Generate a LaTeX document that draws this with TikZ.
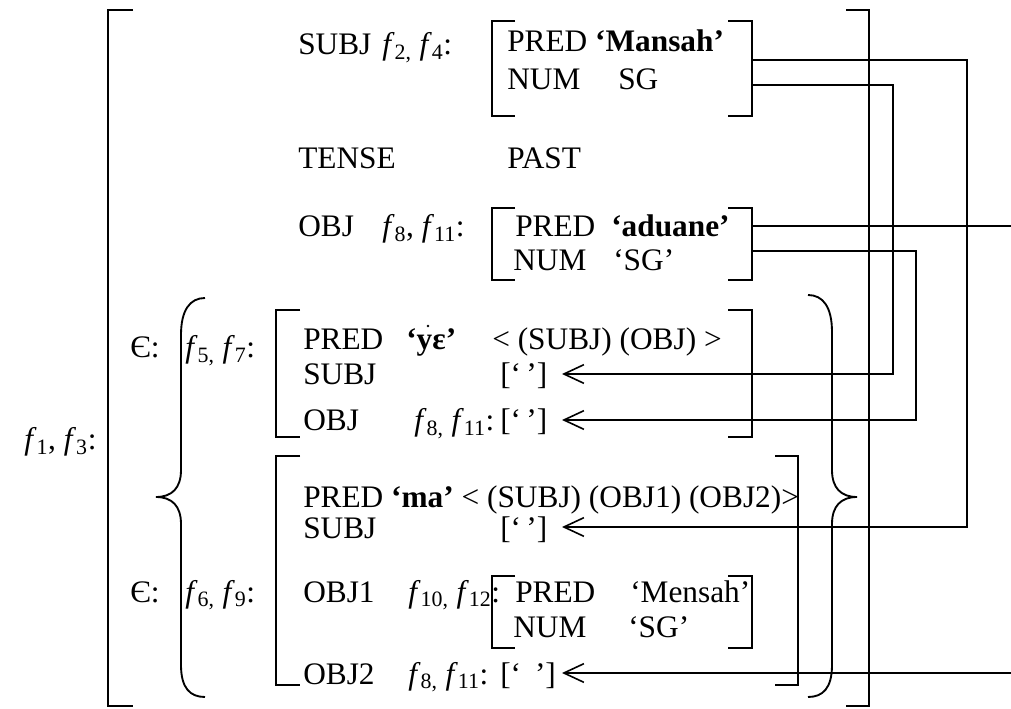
\documentclass[tikz,border=0pt]{standalone}
\usepackage{fontspec}
\setmainfont{Liberation Serif}
\usetikzlibrary{arrows.meta}
\newcommand\fsub[1]{\textit{f}\textsubscript{#1}}
\begin{document}
\begin{tikzpicture}[x=0.75pt,y=-0.75pt,
  lbl/.style={anchor=base west, inner sep=0pt, font=\fontsize{23.5}{28}\selectfont},
  brk/.style={line width=1.4pt},
  conn/.style={line width=1.4pt},
  arr/.style={conn, -{Straight Barb[length=15pt,width=14pt,line width=1.2pt]}}]
\useasboundingbox (0,0) rectangle (1011,709);

% outer f-structure brackets
\draw[brk] (133,10) -- (108,10) -- (108,706) -- (133,706);
\draw[brk] (846,10) -- (869,10) -- (869,706) -- (846,706);
\node[lbl] (f13) at (24,450) {\fsub{1}, \fsub{3}:};

% SUBJ
\node[lbl] (subj) at (298,55) {SUBJ};
\node[lbl] (f24) at (382,55) {\fsub{2,} \fsub{4}:};
\draw[brk] (515,21) -- (492,21) -- (492,116) -- (515,116);
\draw[brk] (728,21) -- (752,21) -- (752,116) -- (728,116);
\node[lbl] (p1) at (507,52) {PRED \textbf{‘Mansah’}};
\node[lbl] (n1) at (507,90) {NUM};
\node[lbl] (s1) at (618,90) {SG};
\coordinate (a1) at (752,60);
\coordinate (a2) at (752,85);

% TENSE
\node[lbl] (tense) at (298,169) {TENSE};
\node[lbl] (past) at (507,169) {PAST};

% OBJ
\node[lbl] (obj) at (298,237) {OBJ};
\node[lbl] (f811) at (382,237) {\fsub{8}, \fsub{11}:};
\draw[brk] (515,208) -- (492,208) -- (492,280) -- (515,280);
\draw[brk] (728,208) -- (752,208) -- (752,280) -- (728,280);
\node[lbl] (p2) at (515,237) {PRED};
\node[lbl] (v2) at (611,237) {\textbf{‘aduane’}};
\node[lbl] (n2) at (513,271) {NUM};
\node[lbl] (s2) at (613,271) {‘SG’};
\coordinate (a3) at (752,226);
\coordinate (a4) at (752,251);

% set braces
\draw[brk] (205,298) .. controls (190,298) and (181,310) .. (181,335) -- (181,470)
  .. controls (181,488) and (172,497) .. (156,497)
  .. controls (172,497) and (181,506) .. (181,524) -- (181,665)
  .. controls (181,688) and (190,697) .. (205,697);
\draw[brk] (808,295) .. controls (823,295) and (832,307) .. (832,332) -- (832,470)
  .. controls (832,488) and (841,497) .. (857,497)
  .. controls (841,497) and (832,506) .. (832,524) -- (832,665)
  .. controls (832,688) and (823,697) .. (808,697);

% first member
\node[lbl] (in1) at (130,358) {Є:};
\node[lbl] (f57) at (185,358) {\fsub{5,} \fsub{7}:};
\draw[brk] (300,310) -- (276,310) -- (276,437) -- (300,437);
\draw[brk] (728,310) -- (752,310) -- (752,437) -- (728,437);
\node[lbl] (p3) at (303,350) {PRED};
\node[lbl] (v3) at (406,350) {\textbf{‘yε’}};
\fill (428,326) circle (1.3);
\node[lbl] (ac3) at (492,350) {< (SUBJ) (OBJ) >};
\node[lbl] (sj3) at (303,385) {SUBJ};
\node[lbl] (e3a) at (500,385) {[‘\,’]};
\node[lbl] (ob3) at (303,431) {OBJ};
\node[lbl] (f811b) at (414,431) {\fsub{8,} \fsub{11}:};
\node[lbl] (e3b) at (500,431) {[‘\,’]};
\coordinate (t2) at (562,374);
\coordinate (t4) at (562,420);

% second member
\node[lbl] (in2) at (130,602) {Є:};
\node[lbl] (f69) at (185,602) {\fsub{6,} \fsub{9}:};
\draw[brk] (300,456) -- (276,456) -- (276,685) -- (300,685);
\draw[brk] (775,456) -- (798,456) -- (798,685) -- (775,685);
\node[lbl] (p4) at (303,507) {PRED \textbf{‘ma’} < (SUBJ) (OBJ1) (OBJ2)>};
\node[lbl] (sj4) at (303,538) {SUBJ};
\node[lbl] (e4a) at (500,538) {[‘\,’]};
\node[lbl] (ob41) at (303,602) {OBJ1};
\node[lbl] (f1012) at (408,602) {\fsub{10,} \fsub{12}:};
\draw[brk] (515,576) -- (492,576) -- (492,648) -- (515,648);
\draw[brk] (728,576) -- (752,576) -- (752,648) -- (728,648);
\node[lbl] (p5) at (515,602) {PRED};
\node[lbl] (v5) at (630,602) {‘Mensah’};
\node[lbl] (n5) at (513,637) {NUM};
\node[lbl] (s5) at (628,637) {‘SG’};
\node[lbl] (ob42) at (303,684) {OBJ2};
\node[lbl] (f811c) at (408,684) {\fsub{8,} \fsub{11}:};
\node[lbl] (e4b) at (500,684) {[‘\;\,’]};
\coordinate (t1) at (562,527);
\coordinate (t5) at (562,673);

% structure-sharing connectors
\coordinate (k1) at (967,527);
\coordinate (k2) at (893,374);
\coordinate (k4) at (916,420);
\coordinate (r3) at (1011,226);
\coordinate (r5) at (1011,673);
\draw[arr] (a1) -| (k1) -- (t1);
\draw[arr] (a2) -| (k2) -- (t2);
\draw[conn] (a3) -- (r3);
\draw[arr] (a4) -| (k4) -- (t4);
\draw[arr] (r5) -- (t5);
\end{tikzpicture}
\end{document}
